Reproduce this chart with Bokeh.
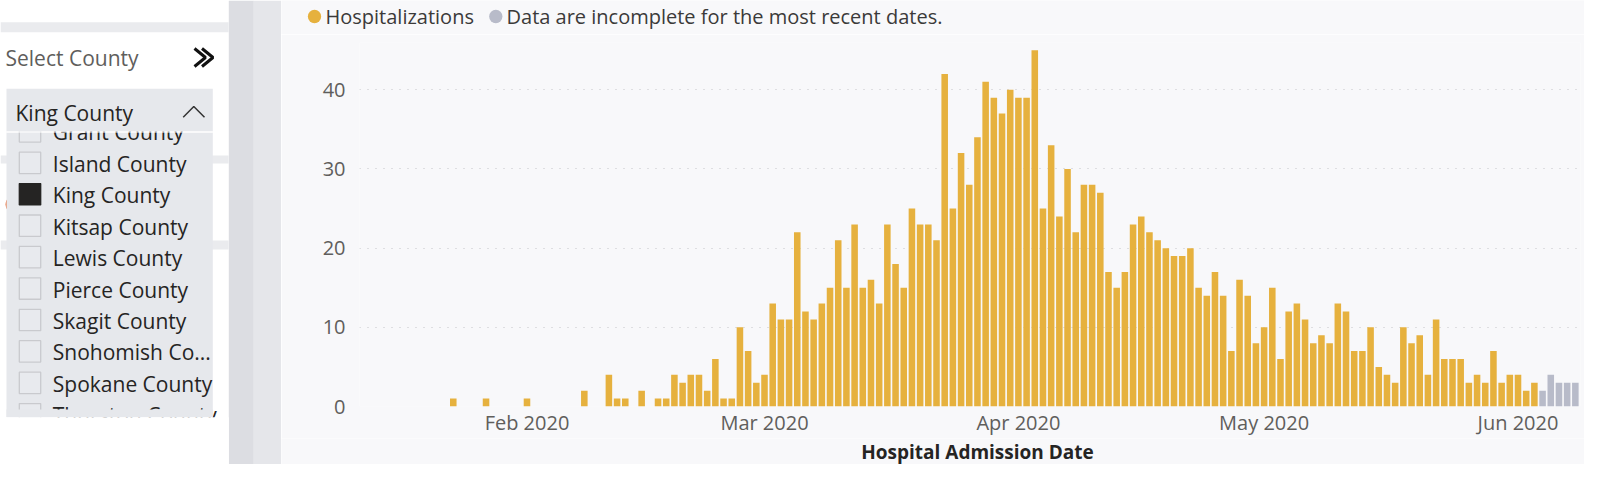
import pandas as pd
from bokeh.plotting import figure
from bokeh.models import ColumnDataSource, Range1d, FixedTicker
from bokeh.layouts import row, column
from bokeh.embed import file_html
from bokeh.resources import INLINE
from bokeh.core.properties import value

# ---------------- data ----------------
first_date = "2020-01-23"
jan_counts = [1, 0, 0, 0, 1, 0, 0, 0, 0]                       # Jan 23 .. Jan 31
feb_counts = [1, 0, 0, 0, 0, 0, 0, 2, 0, 0, 4, 1, 1, 0, 2, 0, 1, 1, 4, 3,
              4, 4, 2, 6, 1, 1, 10, 7, 3]                       # Feb 1 .. Feb 29
mar_counts = [4, 13, 11, 11, 22, 12, 11, 13, 15, 21, 15, 23, 15, 16, 13, 23,
              18, 15, 25, 23, 23, 21, 42, 25, 32, 28, 34, 41, 39, 37, 40]
apr_counts = [39, 39, 45, 25, 33, 24, 30, 22, 28, 28, 27, 17, 15, 17, 23, 24,
              22, 21, 20, 19, 19, 20, 15, 14, 17, 14, 7, 16, 14, 8]
may_counts = [10, 15, 6, 12, 13, 11, 8, 9, 8, 13, 12, 7, 7, 10, 5, 4, 3, 10,
              8, 9, 4, 11, 6, 6, 6, 3, 4, 3, 7, 3, 4]
jun_counts = [4, 2, 3]                                          # Jun 1 .. Jun 3
incomplete_first_date = "2020-06-04"
incomplete_counts = [2, 4, 3, 3, 3]                             # Jun 4 .. Jun 8

month_ticks = ["2020-02-01", "2020-03-01", "2020-04-01", "2020-05-01", "2020-06-01"]
month_labels = ["Feb 2020", "Mar 2020", "Apr 2020", "May 2020", "Jun 2020"]
y_ticks = [0, 10, 20, 30, 40]

legend_labels = ["Hospitalizations", "Data are incomplete for the most recent dates."]
x_axis_title = "Hospital Admission Date"

slicer_title = "Select County"
counties = ["Grant County", "Island County", "King County", "Kitsap County",
            "Lewis County", "Pierce County", "Skagit County", "Snohomish Co...",
            "Spokane County", "Thurston County"]
selected_county = "King County"

# ---------------- styles ----------------
FONT = "Open Sans"
BG = "#f8f8fa"
YELLOW = "#e6b13e"
GRAY = "#b8bbc9"
TXT = "#252423"
SUB = "#605e5c"
DAY = 86400000


def ms(s):
    return pd.Timestamp(s).value // 10**6


complete_counts = jan_counts + feb_counts + mar_counts + apr_counts + may_counts + jun_counts
complete_dates = pd.date_range(first_date, periods=len(complete_counts), freq="D")
incomplete_dates = pd.date_range(incomplete_first_date, periods=len(incomplete_counts), freq="D")

src_c = ColumnDataSource(dict(date=complete_dates, count=complete_counts))
src_i = ColumnDataSource(dict(date=incomplete_dates, count=incomplete_counts))

feb1 = ms("2020-02-01")

# ---------------- chart ----------------
p = figure(width=1303, height=404, x_axis_type="datetime",
           x_range=Range1d(feb1 - 20.45 * DAY, feb1 + 128.63 * DAY),
           y_range=Range1d(0, 45.97),
           output_backend="svg", toolbar_location=None, frame_align=False,
           min_border_left=78, min_border_right=4, min_border_top=8, min_border_bottom=32)
p.background_fill_color = BG
p.border_fill_color = BG
p.outline_line_color = None

p.vbar(x="date", top="count", width=0.8 * DAY, source=src_c, fill_color=YELLOW, line_color=None)
p.vbar(x="date", top="count", width=0.8 * DAY, source=src_i, fill_color=GRAY, line_color=None)

tick_ms = [ms(t) for t in month_ticks]
p.xaxis.ticker = FixedTicker(ticks=tick_ms)
p.xaxis.major_label_overrides = {t: lab for t, lab in zip(tick_ms, month_labels)}
p.xaxis.major_label_standoff = 2

p.yaxis.ticker = FixedTicker(ticks=y_ticks)
p.yaxis.major_label_standoff = 14

for ax in (p.xaxis, p.yaxis):
    ax.axis_line_color = None
    ax.major_tick_line_color = None
    ax.minor_tick_line_color = None
    ax.major_tick_out = 0
    ax.major_tick_in = 0
    ax.minor_tick_out = 0
    ax.minor_tick_in = 0
    ax.major_label_text_font = FONT
    ax.major_label_text_font_size = "20px"
    ax.major_label_text_color = SUB

p.xgrid.grid_line_color = None
p.ygrid.grid_line_color = "#c4c4c8"
p.ygrid.grid_line_dash = "1 7"
p.ygrid.grid_line_width = 1


def strip(height, y0, y1):
    s = figure(width=1303, height=height, x_range=Range1d(281, 1584), y_range=Range1d(y1, y0),
               output_backend="svg", toolbar_location=None, frame_align=False,
               x_axis_location=None, y_axis_location=None, min_border=0)
    s.background_fill_color = BG
    s.border_fill_color = BG
    s.outline_line_color = None
    s.grid.visible = False
    return s


# ---------------- legend strip ----------------
top = strip(34, 0, 34)
top.scatter(x=[314, 495.3], y=[16, 16], size=13.3, marker="circle",
            fill_color=[YELLOW, GRAY], line_color=None)
top.text(x=[325, 506], y=[15.5, 15.5], text=legend_labels, text_baseline="middle",
         text_font=value(FONT), text_font_size="20px", text_color="#3b3a39")

# ---------------- axis title strip ----------------
bot = strip(26, 438, 464)
bot.text(x=[977], y=[451], text=[x_axis_title], text_align="center", text_baseline="middle",
         text_font=value(FONT), text_font_size="19px", text_font_style="bold", text_color=TXT)

# ---------------- left slicer panel ----------------
lp = figure(width=281, height=464, x_range=Range1d(0, 281), y_range=Range1d(464, 0),
            output_backend="svg", toolbar_location=None, frame_align=False,
            x_axis_location=None, y_axis_location=None, min_border=0)
lp.background_fill_color = "#ffffff"
lp.border_fill_color = "#ffffff"
lp.outline_line_color = None
lp.grid.visible = False

# background bands and strips
lp.quad(left=[0, 0, 0], right=[228, 228, 228], top=[21.7, 155, 240], bottom=[31.7, 163, 249],
        fill_color="#eaebee", line_color=None)
lp.quad(left=[228.3, 253.3], right=[253.3, 281], top=[0, 0], bottom=[464, 464],
        fill_color=["#dcdde2", "#e5e6ea"], line_color=None)
# partly hidden status dot of a visual behind the dropdown
lp.scatter(x=[15], y=[204], size=20, marker="circle", fill_color="#e66c37", line_color=None)

lp.text(x=[5], y=[57.5], text=[slicer_title], text_baseline="middle",
        text_font=value(FONT), text_font_size="21px", text_color=SUB)
lp.multi_line(xs=[[194, 205, 194], [201.5, 212.5, 201.5]], ys=[[48, 57, 66], [48, 57, 66]],
              line_color="#111111", line_width=3)

# dropdown list
lp.quad(left=[6], right=[212.3], top=[132], bottom=[416.7], fill_color="#e6e8ec", line_color=None)
item_y = [131.9 + 31.43 * i for i in range(len(counties))]
fills = ["#252423" if c == selected_county else "#e8eaee" for c in counties]
lines = ["#252423" if c == selected_county else "#c9cace" for c in counties]
lp.quad(left=[18.8] * len(counties), right=[40.2] * len(counties),
        top=[y - 11.7 for y in item_y], bottom=[y + 9.7 for y in item_y],
        fill_color=fills, line_color=lines, line_width=1.3)
lp.text(x=[52.3] * len(counties), y=item_y, text=counties, text_baseline="middle",
        text_font=value(FONT), text_font_size="21px", text_color=TXT)
# clip list bottom
lp.quad(left=[6], right=[212.3], top=[409], bottom=[416.7], fill_color="#e6e8ec", line_color=None)
lp.quad(left=[0], right=[228.3], top=[416.7], bottom=[464], fill_color="#ffffff", line_color=None)

# dropdown header
lp.quad(left=[6], right=[212.3], top=[88.3], bottom=[131], fill_color="#e6e8ec", line_color=None)
lp.segment(x0=[6], x1=[212.3], y0=[131.5], y1=[131.5], line_color="#ffffff", line_width=1.2)
lp.text(x=[15], y=[112.3], text=[selected_county], text_baseline="middle",
        text_font=value(FONT), text_font_size="21px", text_color=TXT)
lp.line(x=[182.7, 193.3, 204], y=[116.7, 106, 116.7], line_color="#333333", line_width=1.5)

layout = row(lp, column(top, p, bot))
open("out.html", "w").write(file_html(layout, INLINE))
